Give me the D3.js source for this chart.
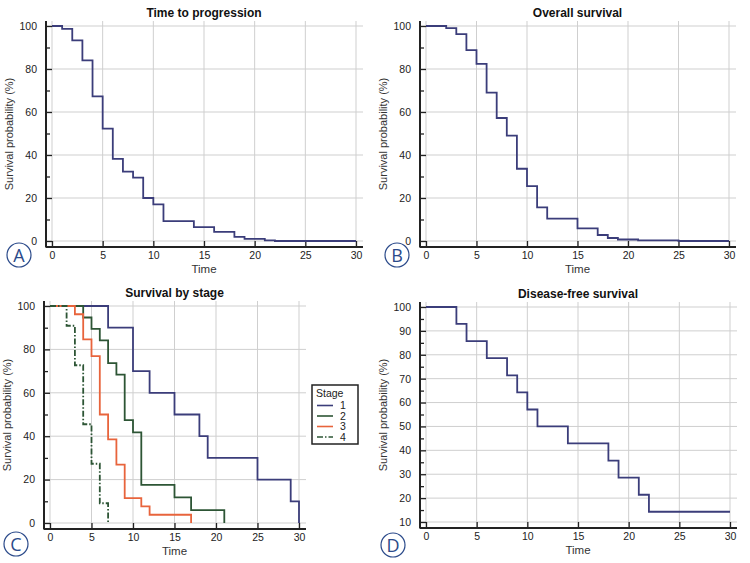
<!DOCTYPE html>
<html>
<head>
<meta charset="utf-8">
<script src="https://cdn.jsdelivr.net/npm/d3@7"></script>
<style>
  body { margin: 0; background: #fff; }
  svg { display: block; font-family: "Liberation Sans", Arial, sans-serif; }
</style>
</head>
<body>
<svg id="chart" width="750" height="563"></svg>
<script>
// step times and survival (%)
const ttpTime = [0, 1, 2, 3, 4, 5, 6, 7, 8, 9, 10, 11, 14, 16, 18, 19, 21, 22, 30];
const ttpSurv = [100, 98.7, 93.3, 84, 67.3, 52.3, 38.2, 32.3, 29.5, 20, 17, 9.2, 6.5, 4.2, 1.9, 1, 0.3, 0, 0];

const osTime = [0, 2, 3, 4, 5, 6, 7, 8, 9, 10, 11, 12, 15, 17, 18, 19, 21, 25, 30];
const osSurv = [100, 99, 96.2, 88.8, 82.4, 69, 57.2, 49, 33.6, 25.5, 15.6, 10.4, 5.9, 2.8, 1.4, 0.7, 0.3, 0, 0];

const stage1Time = [0, 7, 10, 12, 15, 18, 19, 25, 29, 30];
const stage1Surv = [100, 90, 70, 60, 50, 40, 30, 20, 10, 0];
const stage2Time = [0, 4, 5, 6, 7, 8, 9, 10, 11, 15, 17, 21];
const stage2Surv = [100, 94.7, 89.5, 84.2, 73.7, 68.4, 47.4, 41.8, 17.6, 11.8, 5.9, 0];
const stage3Time = [0, 3, 4, 5, 6, 7, 8, 9, 11, 12, 17];
const stage3Surv = [100, 96.2, 84.6, 76.9, 50, 38.5, 26.9, 11.5, 7.7, 3.8, 0];
const stage4Time = [0, 2, 3, 4, 5, 6, 7];
const stage4Surv = [100, 90.9, 72.7, 45.5, 27.3, 9.1, 0];
const stageNames = ['1', '2', '3', '4'];

const dfsTime = [0, 3, 4, 6, 8, 9, 10, 11, 14, 18, 19, 21, 22, 30];
const dfsSurv = [100, 92.9, 85.7, 78.6, 71.4, 64.3, 57.1, 50, 42.9, 35.7, 28.6, 21.4, 14.3, 14.3];

const xTicks = [0, 5, 10, 15, 20, 25, 30];

const navy = '#3b3d7a';
const svg = d3.select('#chart');

function zip(times, surv) {
  return times.map((t, i) => [t, surv[i]]);
}

function panel(opt) {
  const x = d3.scaleLinear().domain([0, 30]).range([opt.x0, opt.x1]);
  const y = d3.scaleLinear().domain(opt.yDomain).range([opt.y0, opt.y1]);
  const left = opt.x0 - 6;
  const bottom = opt.y0 + 6;
  const right = opt.x1 + 7;
  const top = opt.y1 - 5;
  const g = svg.append('g');

  // grid
  g.selectAll('line.vg').data(xTicks).enter().append('line')
    .attr('x1', d => x(d)).attr('x2', d => x(d))
    .attr('y1', top).attr('y2', bottom)
    .attr('stroke', '#cfcfcf').attr('stroke-width', 1);
  g.selectAll('line.hg').data(opt.yTicks).enter().append('line')
    .attr('x1', left).attr('x2', right)
    .attr('y1', d => y(d)).attr('y2', d => y(d))
    .attr('stroke', '#cfcfcf').attr('stroke-width', 1);

  // axes (ticks point inward)
  g.append('g').attr('transform', `translate(${left},0)`)
    .call(d3.axisLeft(y).tickValues(opt.yTicks).tickSize(-6).tickPadding(9));
  g.append('g').attr('transform', `translate(${left},0)`)
    .call(d3.axisLeft(y).tickValues(opt.yMinor).tickSize(-4).tickFormat(''));
  g.append('g').attr('transform', `translate(0,${bottom})`)
    .call(d3.axisBottom(x).tickValues(xTicks).tickSize(-6).tickPadding(5));
  g.selectAll('.domain').remove();
  g.selectAll('.tick line').attr('stroke', '#222').attr('stroke-width', 1.3);
  g.selectAll('.tick text').attr('font-size', 10.5).attr('fill', '#222');

  g.append('line').attr('x1', left).attr('x2', left).attr('y1', top).attr('y2', bottom + 0.5)
    .attr('stroke', '#222').attr('stroke-width', 2);
  g.append('line').attr('x1', left).attr('x2', right).attr('y1', bottom).attr('y2', bottom)
    .attr('stroke', '#222').attr('stroke-width', 2);

  // titles
  g.append('text').attr('x', (opt.x0 + opt.x1) / 2).attr('y', top - 4)
    .attr('text-anchor', 'middle').attr('font-size', 12).attr('font-weight', 'bold')
    .attr('fill', '#111').text(opt.title);
  g.append('text').attr('x', (opt.x0 + opt.x1) / 2).attr('y', bottom + 26)
    .attr('text-anchor', 'middle').attr('font-size', 11.5).attr('fill', '#333').text('Time');
  g.append('text')
    .attr('transform', `translate(${left - 33},${(top + bottom) / 2})rotate(-90)`)
    .attr('text-anchor', 'middle').attr('font-size', 11).attr('fill', '#333')
    .text('Survival probability (%)');

  // curves
  const line = d3.line().curve(d3.curveStepAfter).x(d => x(d[0])).y(d => y(d[1]));
  opt.series.forEach(s => {
    g.append('path').datum(s.data)
      .attr('d', line)
      .attr('fill', 'none')
      .attr('stroke', s.color)
      .attr('stroke-width', 1.8)
      .attr('stroke-dasharray', s.dash || null);
  });

  // panel letter
  const cx = left - 27 + (opt.letterDx || 0);
  const cy = bottom + opt.letterDy;
  g.append('circle').attr('cx', cx).attr('cy', cy).attr('r', 12)
    .attr('fill', 'none').attr('stroke', '#2b4a8a').attr('stroke-width', 1.2);
  g.append('text').attr('x', cx).attr('y', cy + 6.5).attr('text-anchor', 'middle')
    .attr('font-family', '"Open Sans", sans-serif').attr('font-size', 18)
    .attr('fill', '#2b4a8a').text(opt.letter);

  return { x, y, g };
}

const pct20 = [0, 20, 40, 60, 80, 100];
const pct20minor = [10, 30, 50, 70, 90];

panel({
  title: 'Time to progression', letter: 'A', letterDy: 8,
  x0: 52, x1: 356, y0: 241, y1: 26,
  yDomain: [0, 100], yTicks: pct20, yMinor: pct20minor,
  series: [{ data: zip(ttpTime, ttpSurv), color: navy }]
});

panel({
  title: 'Overall survival', letter: 'B', letterDy: 8, letterDx: 4,
  x0: 426, x1: 729, y0: 241, y1: 26,
  yDomain: [0, 100], yTicks: pct20, yMinor: pct20minor,
  series: [{ data: zip(osTime, osSurv), color: navy }]
});

const stageColors = [navy, '#2d5535', '#e8643c', '#2d5535'];
const stageDash = [null, null, null, '6,2,1.5,2'];
const stageData = [
  zip(stage1Time, stage1Surv), zip(stage2Time, stage2Surv),
  zip(stage3Time, stage3Surv), zip(stage4Time, stage4Surv)
];

panel({
  title: 'Survival by stage', letter: 'C', letterDy: 15, letterDx: -1,
  x0: 50, x1: 299, y0: 523, y1: 306,
  yDomain: [0, 100], yTicks: pct20, yMinor: pct20minor,
  series: stageData.map((d, i) => ({ data: d, color: stageColors[i], dash: stageDash[i] }))
});

// legend for stage panel
const leg = svg.append('g').attr('transform', 'translate(312,385)');
leg.append('rect').attr('width', 46).attr('height', 59)
  .attr('fill', '#fff').attr('stroke', '#222').attr('stroke-width', 1.5);
leg.append('text').attr('x', 4).attr('y', 11.5).attr('font-size', 10.5).attr('fill', '#222').text('Stage');
stageNames.forEach((n, i) => {
  const ly = 20.5 + i * 10.5;
  leg.append('line').attr('x1', 5).attr('x2', 21).attr('y1', ly).attr('y2', ly)
    .attr('stroke', stageColors[i]).attr('stroke-width', 1.6)
    .attr('stroke-dasharray', stageDash[i]);
  leg.append('text').attr('x', 28).attr('y', ly + 3.8).attr('font-size', 10.5)
    .attr('fill', '#222').text(n);
});

panel({
  title: 'Disease-free survival', letter: 'D', letterDy: 17,
  x0: 426, x1: 730, y0: 522, y1: 307,
  yDomain: [10, 100], yTicks: d3.range(10, 101, 10), yMinor: d3.range(15, 100, 10),
  series: [{ data: zip(dfsTime, dfsSurv), color: navy }]
});
</script>
</body>
</html>
